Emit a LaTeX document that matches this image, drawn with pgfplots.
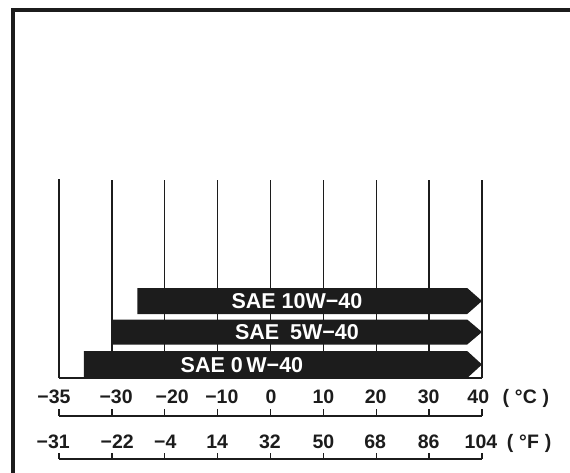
\documentclass[border=0pt]{standalone}
\usepackage{pgfplots}
\pgfplotsset{compat=1.18}
\usepackage{fontspec}
\setmainfont{Liberation Sans}
\definecolor{ink}{HTML}{1C1C1C}
\begin{document}
\begin{tikzpicture}
% x: scale position (0 = -35 C, 1 = -30 C, 2 = -20 C, ..., 8 = 40 C); y: height from the top
\begin{axis}[
  scale only axis, width=570pt, height=472pt,
  xmin=-1.1158, xmax=9.6643, ymin=0, ymax=472, y dir=reverse,
  axis line style={draw=none}, ticks=none,
  unbounded coords=jump,
]
% frame
\addplot[line width=3.8pt, ink] coordinates {(-0.87,520) (-0.87,10) (11,10)};
% vertical lines and base line
\addplot[line width=1.4pt, ink] coordinates {
 (0,179)(0,378) (nan,nan) (1,180)(1,378) (nan,nan) (2,180)(2,378) (nan,nan)
 (3,180)(3,378) (nan,nan) (4,180)(4,378) (nan,nan) (5,180)(5,378) (nan,nan)
 (6,180)(6,378) (nan,nan) (7,180)(7,378) (nan,nan) (8,180)(8,378) (nan,nan)
 (0,378)(8,378)};
% bars (start of each oil grade's range to 40 C)
\addplot[fill=ink, draw=none] coordinates {(1.48,288)(7.72,288)(8,301)(7.72,314)(1.48,314)} -- cycle;
\addplot[fill=ink, draw=none] coordinates {(1,319.5)(7.72,319.5)(8,332)(7.72,344.5)(1,344.5)} -- cycle;
\addplot[fill=ink, draw=none] coordinates {(0.47,351)(7.72,351)(8,364.5)(7.72,378)(0.47,378)} -- cycle;
% bar labels
\addplot[draw=none, nodes near coords, point meta=explicit symbolic,
  nodes near coords style={anchor=base, text=white, inner sep=0pt, font=\fontsize{21.5}{24}\selectfont\bfseries}]
  table[col sep=comma, row sep=\\, meta=label]{
x,y,label\\
4.5,308.5,SAE 10W−40\\
4.5,339.5,SAE\hspace{0.5em}5W−40\\
3.46,372,SAE 0\,W−40\\
};
% Celsius scale
\addplot[line width=1.4pt, ink] coordinates {
 (0,416)(8,416) (nan,nan) (0,409)(0,416) (nan,nan) (1,409)(1,416) (nan,nan)
 (2,409)(2,416) (nan,nan) (3,409)(3,416) (nan,nan) (4,409)(4,416) (nan,nan)
 (5,409)(5,416) (nan,nan) (6,409)(6,416) (nan,nan) (7,409)(7,416) (nan,nan)
 (8,409)(8,416)};
% Fahrenheit scale
\addplot[line width=1.4pt, ink] coordinates {
 (0,459)(8,459) (nan,nan) (0,453)(0,459) (nan,nan) (1,453)(1,459) (nan,nan)
 (2,453)(2,459) (nan,nan) (3,453)(3,459) (nan,nan) (4,453)(4,459) (nan,nan)
 (5,453)(5,459) (nan,nan) (6,453)(6,459) (nan,nan) (7,453)(7,459) (nan,nan)
 (8,453)(8,459)};
% scale labels
\addplot[draw=none, nodes near coords, point meta=explicit symbolic,
  nodes near coords style={anchor=base, text=ink, inner sep=0pt, font=\fontsize{19.5}{24}\selectfont\bfseries}]
  table[col sep=comma, row sep=\\, meta=label]{
x,y,label\\
-0.095,403,−35\\
1.08,403,−30\\
2.14,403,−20\\
3.08,403,−10\\
4.01,403,0\\
5.0,403,10\\
5.99,403,20\\
6.99,403,30\\
7.93,403,40\\
8.83,403,(\hspace{0.3em}°C\hspace{0.3em})\\
-0.11,448,−31\\
1.10,448,−22\\
2.01,448,−4\\
2.99,448,14\\
3.99,448,32\\
5.0,448,50\\
5.98,448,68\\
6.99,448,86\\
7.98,448,104\\
8.89,448,(\hspace{0.3em}°F\hspace{0.3em})\\
};
\end{axis}
\pgfresetboundingbox
\path[use as bounding box] (current axis.south west) rectangle (current axis.north east);
\end{tikzpicture}
\end{document}
